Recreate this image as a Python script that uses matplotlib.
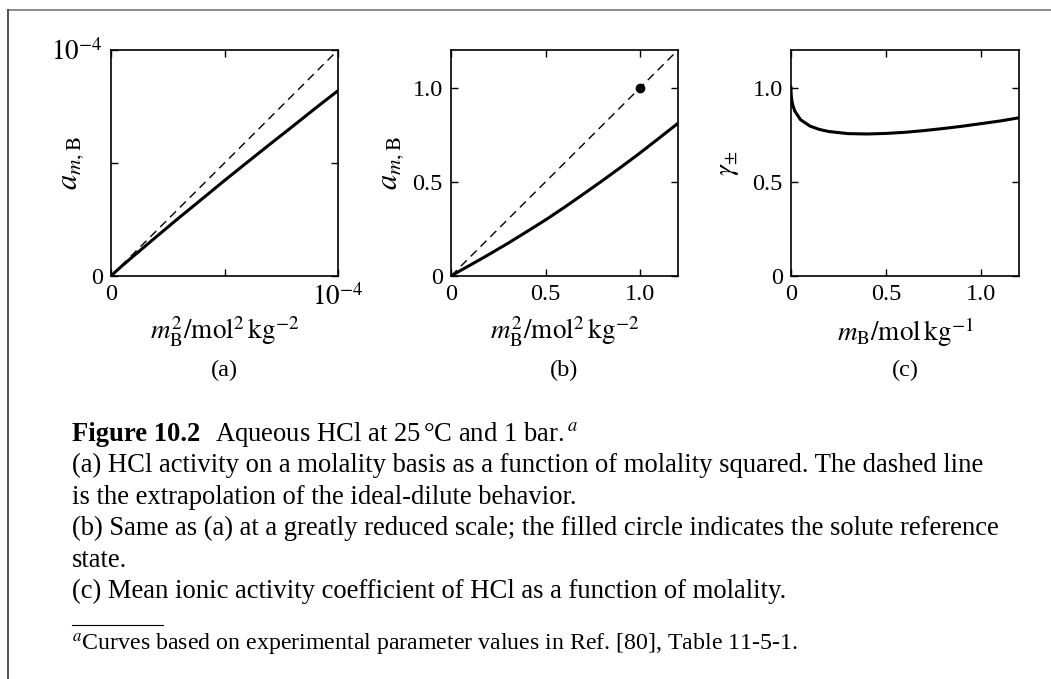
#!/usr/bin/env python3
"""Aqueous HCl activity: three square panels plus caption block."""
import matplotlib
matplotlib.use('Agg')
import matplotlib.pyplot as plt
from matplotlib.lines import Line2D

plt.rcParams.update({
    'font.family': ['Liberation Serif', 'DejaVu Serif'],
    'mathtext.fontset': 'stix',
    'font.size': 17.5,
    'axes.linewidth': 1.2,
})

# ---- data ----
# (a) activity vs molality squared, tiny scale
msq_a = [0, 0.02e-4, 0.05e-4, 0.1e-4, 0.2e-4, 0.3e-4, 0.4e-4, 0.5e-4,
         0.6e-4, 0.7e-4, 0.8e-4, 0.9e-4, 1.0e-4]
act_a = [0, 0.019e-4, 0.046e-4, 0.089e-4, 0.174e-4, 0.258e-4, 0.340e-4,
         0.4225e-4, 0.503e-4, 0.583e-4, 0.662e-4, 0.742e-4, 0.82e-4]
# (b) activity vs molality squared, reduced scale
msq_b = [0, 0.05, 0.1, 0.2, 0.3, 0.4, 0.5, 0.6, 0.7, 0.8, 0.9, 1.0, 1.1, 1.2]
act_b = [0, 0.029, 0.057, 0.114, 0.173, 0.235, 0.298, 0.365, 0.435,
         0.506, 0.579, 0.654, 0.732, 0.811]
ref_state = (1.0, 1.0)
# (c) mean ionic activity coefficient vs molality
m_c = [0, 0.0001, 0.0005, 0.001, 0.002, 0.003, 0.005, 0.01, 0.02, 0.05,
       0.1, 0.15, 0.2, 0.3, 0.4, 0.5, 0.6, 0.7, 0.8, 0.9, 1.0, 1.1, 1.2]
gam_c = [1.0, 0.988, 0.975, 0.965, 0.952, 0.942, 0.929, 0.905, 0.876, 0.830,
         0.796, 0.778, 0.767, 0.756, 0.754, 0.757, 0.763, 0.772, 0.783,
         0.795, 0.809, 0.823, 0.840]

caption_lines = [
    '(a) HCl activity on a molality basis as a function of molality squared. The dashed line',
    'is the extrapolation of the ideal-dilute behavior.',
    '(b) Same as (a) at a greatly reduced scale; the filled circle indicates the solute reference',
    'state.',
    '(c) Mean ionic activity coefficient of HCl as a function of molality.',
]

MATH_FS = 19.5
CAP_FS = 19.2
W, H = 1051, 679
fig = plt.figure(figsize=(W / 100, H / 100), dpi=100)

def px_axes(left, right, top, bottom):
    return fig.add_axes([left / W, 1 - bottom / H, (right - left) / W, (bottom - top) / H])

ax1 = px_axes(111, 338, 50, 276)
ax2 = px_axes(451, 678, 50, 276)
ax3 = px_axes(791, 1019, 50, 276)

for ax in (ax1, ax2, ax3):
    ax.tick_params(direction='in', top=True, right=True, length=5, width=1.0, pad=6)

# ============ (a) ============
ax1.plot([0, 1e-4], [0, 1e-4], color='black', lw=1.0, dashes=(6, 4))
ax1.plot(msq_a, act_a, color='black', lw=2.2, solid_capstyle='butt')
ax1.set_xlim(0, 1e-4)
ax1.set_ylim(0, 1e-4)
ax1.set_xticks([0, 0.5e-4, 1e-4])
ax1.set_xticklabels(['0', '', r'$10^{-4}$'])
ax1.set_yticks([0, 0.5e-4, 1e-4])
ax1.set_yticklabels(['0', '', r'$10^{-4}$'])
ax1.get_xticklabels()[2].set_fontsize(MATH_FS)
ax1.get_yticklabels()[2].set_fontsize(MATH_FS)
ax1.set_xlabel(r'$m_{\mathrm{B}}^{2}/\mathrm{mol}^{2}\,\mathrm{kg}^{-2}$', va='center', fontsize=MATH_FS)
ax1.set_ylabel(r'$a_{m,\mathrm{B}}$', va='center', fontsize=22)
ax1.xaxis.set_label_coords(0.5, -0.248)
ax1.yaxis.set_label_coords(-0.172, 0.5)

# ============ (b) ============
ax2.plot([0, 1.2], [0, 1.2], color='black', lw=1.0, dashes=(6, 4))
ax2.plot(msq_b, act_b, color='black', lw=2.2)
ax2.plot([ref_state[0]], [ref_state[1]], 'o', color='black', markersize=6)
ax2.set_xlim(0, 1.2)
ax2.set_ylim(0, 1.2)
ax2.set_xticks([0, 0.5, 1.0])
ax2.set_xticklabels(['0', '0.5', '1.0'])
ax2.set_yticks([0, 0.5, 1.0])
ax2.set_yticklabels(['0', '0.5', '1.0'])
ax2.set_xlabel(r'$m_{\mathrm{B}}^{2}/\mathrm{mol}^{2}\,\mathrm{kg}^{-2}$', va='center', fontsize=MATH_FS)
ax2.set_ylabel(r'$a_{m,\mathrm{B}}$', va='center', fontsize=22)
ax2.xaxis.set_label_coords(0.5, -0.248)
ax2.yaxis.set_label_coords(-0.26, 0.5)

# ============ (c) ============
ax3.plot(m_c, gam_c, color='black', lw=2.2)
ax3.set_xlim(0, 1.2)
ax3.set_ylim(0, 1.2)
ax3.set_xticks([0, 0.5, 1.0])
ax3.set_xticklabels(['0', '0.5', '1.0'])
ax3.set_yticks([0, 0.5, 1.0])
ax3.set_yticklabels(['0', '0.5', '1.0'])
ax3.set_xlabel(r'$m_{\mathrm{B}}/\mathrm{mol\,kg}^{-1}$', va='center', fontsize=MATH_FS)
ax3.set_ylabel(r'$\gamma_{\pm}$', va='center', fontsize=MATH_FS)
ax3.xaxis.set_label_coords(0.5, -0.248)
ax3.yaxis.set_label_coords(-0.272, 0.5)

for ax, tag in zip((ax1, ax2, ax3), ('(a)', '(b)', '(c)')):
    ax.text(0.5, -0.416, tag, transform=ax.transAxes, ha='center', va='center')

# ============ caption ============
x0 = 72 / W
def fy(py):
    return 1 - py / H

t_bold = fig.text(x0, fy(441), 'Figure 10.2', fontweight='bold', fontsize=CAP_FS, va='baseline')
fig.canvas.draw()
bb = t_bold.get_window_extent()
fig.text((bb.x1 + 15) / W, fy(441), r'Aqueous HCl at 25$\,$°C and 1 bar.$\,^{a}$',
         fontsize=CAP_FS, va='baseline')
for i, line in enumerate(caption_lines):
    fig.text(x0, fy(472.4 + 31.4 * i), line, fontsize=CAP_FS, va='baseline')

fig.add_artist(Line2D([72 / W, 163 / W], [fy(625), fy(625)], color='black', lw=0.8))
fig.text(x0, fy(651), r'$^{a}$Curves based on experimental parameter values in Ref. [80], Table 11-5-1.',
         fontsize=17.2, va='baseline')

# page frame: top rule and left rule
fig.add_artist(Line2D([8 / W, 1], [fy(10), fy(10)], color='#777777', lw=1.2))
fig.add_artist(Line2D([8 / W, 8 / W], [fy(10), 0], color='#333333', lw=1.2))

plt.savefig('out.png', dpi=100)
